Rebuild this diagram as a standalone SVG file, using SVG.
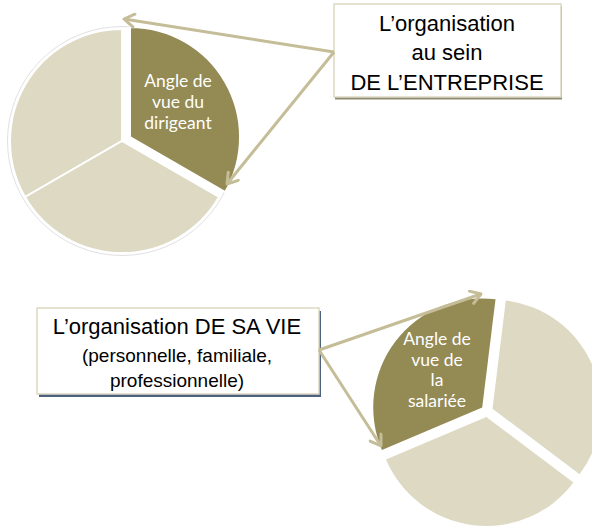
<svg xmlns="http://www.w3.org/2000/svg" width="592" height="527" viewBox="0 0 592 527">
<style>
.light{fill:#ddd9c3;stroke:#ffffff;stroke-width:2}
.dark{fill:#948a54;stroke:#ffffff;stroke-width:2}
.slbl{font-family:Lato,"Open Sans",sans-serif;font-size:17.5px;fill:#ffffff;text-anchor:middle}
.box{fill:#ffffff;stroke:#ddd9c3;stroke-width:1.5}
.btxt{font-family:"Liberation Sans",Arial,sans-serif;fill:#000000;text-anchor:middle}
.conn{stroke:#c4bd97;stroke-width:3;fill:none}
</style>
<defs>
<marker id="ah" viewBox="-12 -8 14 16" refX="0" refY="0" markerWidth="14" markerHeight="16" markerUnits="userSpaceOnUse" orient="auto">
<path d="M-10,-6.5 L0,0 L-10,6.5" fill="none" stroke="#c4bd97" stroke-width="3" stroke-linecap="round" stroke-linejoin="round"/>
</marker>
</defs>
<rect width="592" height="527" fill="#ffffff"/>

<g id="pie-top">
<circle cx="122" cy="141" r="114.5" fill="none" stroke="#d8d8d8" stroke-width="0.8"/>
<path class="light" d="M122,141 L25,197 A112,112 0 0 1 122,29 Z"/>
<path class="light" d="M122,141 L219,197 A112,112 0 0 1 25,197 Z"/>
<path class="dark" d="M130,137 L130,27 A110,110 0 0 1 225.3,192 Z"/>
<text class="slbl" x="178" y="87">Angle de</text>
<text class="slbl" x="178" y="108">vue du</text>
<text class="slbl" x="178" y="129">dirigeant</text>
</g>

<g id="box-top">
<rect x="335" y="6.5" width="227" height="93" fill="#8f8b73"/>
<rect class="box" x="334" y="4" width="227" height="93"/>
<text class="btxt" x="447" y="31" font-size="22">L’organisation</text>
<text class="btxt" x="447" y="60" font-size="22">au sein</text>
<text class="btxt" x="447" y="90" font-size="22">DE L’ENTREPRISE</text>
</g>

<g id="box-bottom">
<rect x="39" y="311" width="282" height="86" fill="#4f6180"/>
<rect class="box" x="37" y="308" width="282" height="86"/>
<text class="btxt" x="177" y="334" font-size="22">L’organisation DE SA VIE</text>
<text class="btxt" x="177" y="362" font-size="19">(personnelle, familiale,</text>
<text class="btxt" x="177" y="387" font-size="19">professionnelle)</text>
</g>

<g id="pie-bottom">
<path class="light" stroke="none" d="M492.5,408.7 L505.8,300.5 A109,109 0 0 1 579.6,474.3 Z" style="stroke:none"/>
<path class="light" d="M486.3,417 L573.4,482.6 A109,109 0 0 1 386,459.6 Z" style="stroke:none"/>
<path class="dark" d="M482.2,407.4 L381.9,450 A109,109 0 0 1 495.5,299.2 Z" style="stroke:none"/>
<text class="slbl" x="437" y="345">Angle de</text>
<text class="slbl" x="437" y="365.5">vue de</text>
<text class="slbl" x="437" y="386">la</text>
<text class="slbl" x="437" y="406.5">salariée</text>
</g>

<g id="connectors">
<line class="conn" x1="334" y1="52" x2="124" y2="19" marker-end="url(#ah)"/>
<line class="conn" x1="334" y1="52" x2="227" y2="184" marker-end="url(#ah)"/>
<line class="conn" x1="319" y1="350" x2="481" y2="294" marker-end="url(#ah)"/>
<line class="conn" x1="319" y1="350" x2="381" y2="446" marker-end="url(#ah)"/>
</g>
</svg>
